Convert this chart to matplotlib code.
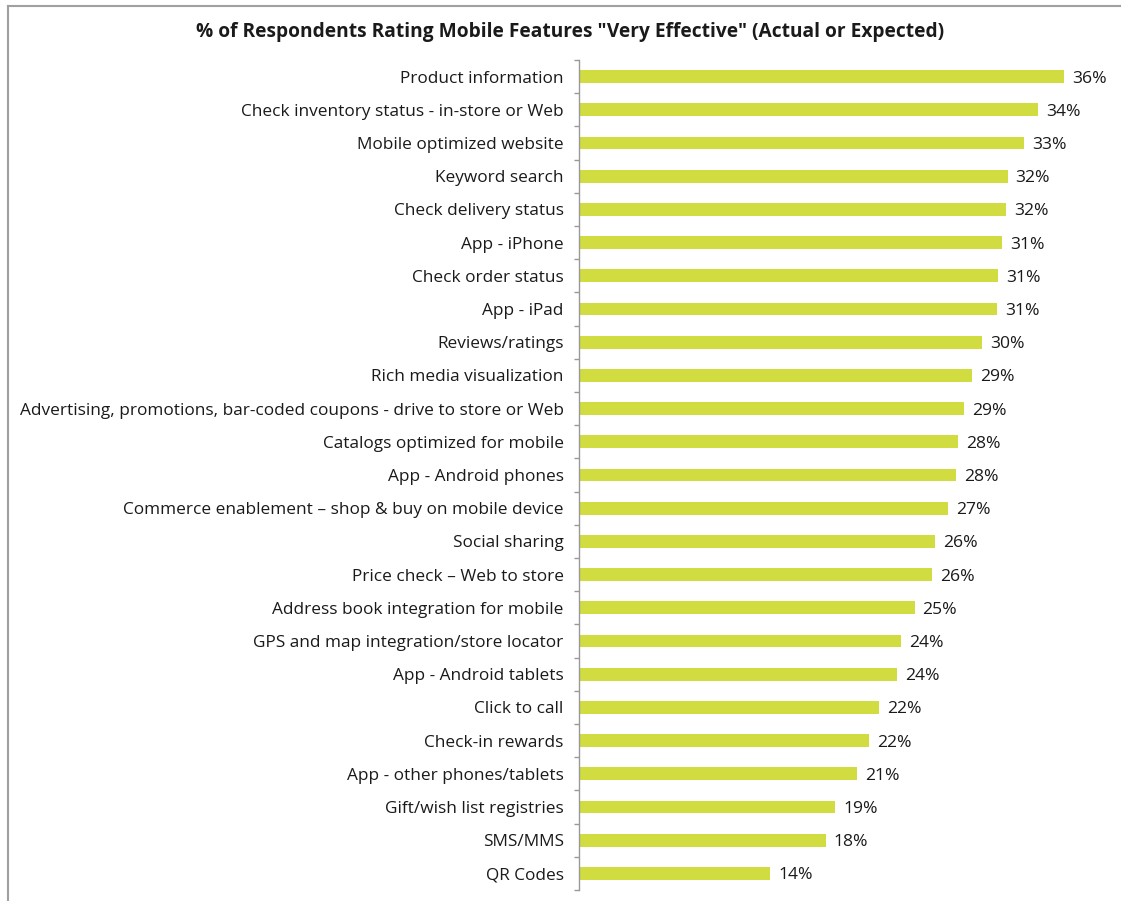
import matplotlib
matplotlib.use("Agg")
import matplotlib.pyplot as plt
from matplotlib.lines import Line2D

plt.rcParams['font.family'] = ['Open Sans', 'DejaVu Sans']

features = [
    "Product information",
    "Check inventory status - in-store or Web",
    "Mobile optimized website",
    "Keyword search",
    "Check delivery status",
    "App - iPhone",
    "Check order status",
    "App - iPad",
    "Reviews/ratings",
    "Rich media visualization",
    "Advertising, promotions, bar-coded coupons - drive to store or Web",
    "Catalogs optimized for mobile",
    "App - Android phones",
    "Commerce enablement \u2013 shop & buy on mobile device",
    "Social sharing",
    "Price check \u2013 Web to store",
    "Address book integration for mobile",
    "GPS and map integration/store locator",
    "App - Android tablets",
    "Click to call",
    "Check-in rewards",
    "App - other phones/tablets",
    "Gift/wish list registries",
    "SMS/MMS",
    "QR Codes",
]
pct_very_effective = [
    36.0, 34.1, 33.0, 31.8, 31.7, 31.4, 31.1, 31.0, 29.9, 29.2,
    28.6, 28.1, 28.0, 27.4, 26.4, 26.2, 24.9, 23.9, 23.6, 22.3,
    21.5, 20.6, 19.0, 18.3, 14.2,
]
title = '% of Respondents Rating Mobile Features "Very Effective" (Actual or Expected)'

bar_color = "#D0DC40"
text_color = "#1a1a1a"

fig = plt.figure(figsize=(11.3, 9.01), dpi=100)
ax = fig.add_axes([579 / 1130, 1 - 890 / 901, 539 / 1130, 830 / 901])

pos = list(range(len(features)))
ax.barh(pos, pct_very_effective, height=0.39, color=bar_color, edgecolor="none")
ax.set_ylim(len(features) - 0.5, -0.5)
ax.set_xlim(0, 40)

ax.set_yticks(pos)
ax.set_yticklabels(features, fontsize=12.4, color=text_color)
ax.tick_params(axis="y", length=0, pad=11)
# minor ticks on category boundaries
ax.set_yticks([p - 0.5 for p in pos] + [len(features) - 0.5], minor=True)
ax.tick_params(axis="y", which="minor", length=3.5, color="#999999", width=1)
ax.set_xticks([])

for s in ["top", "right", "bottom"]:
    ax.spines[s].set_visible(False)
ax.spines["left"].set_color("#999999")
ax.spines["left"].set_linewidth(1)

for p, v in zip(pos, pct_very_effective):
    ax.text(v + 0.6, p + 0.06, f"{v:.0f}%", va="center", ha="left",
            fontsize=12.6, color=text_color)

fig.text(570 / 1130, 1 - 32 / 901, title, ha="center", va="center",
         fontsize=13.75, fontweight="bold", color=text_color)

# chart frame (left and top edges)
fig.add_artist(Line2D([7.5 / 1130, 7.5 / 1130], [0, 1 - 6 / 901],
                      transform=fig.transFigure, color="#a0a0a0", lw=1.5))
fig.add_artist(Line2D([7.5 / 1130, 1120 / 1130], [1 - 6 / 901, 1 - 6 / 901],
                      transform=fig.transFigure, color="#a0a0a0", lw=1.5))

fig.savefig("out.png", dpi=100, facecolor="white")
